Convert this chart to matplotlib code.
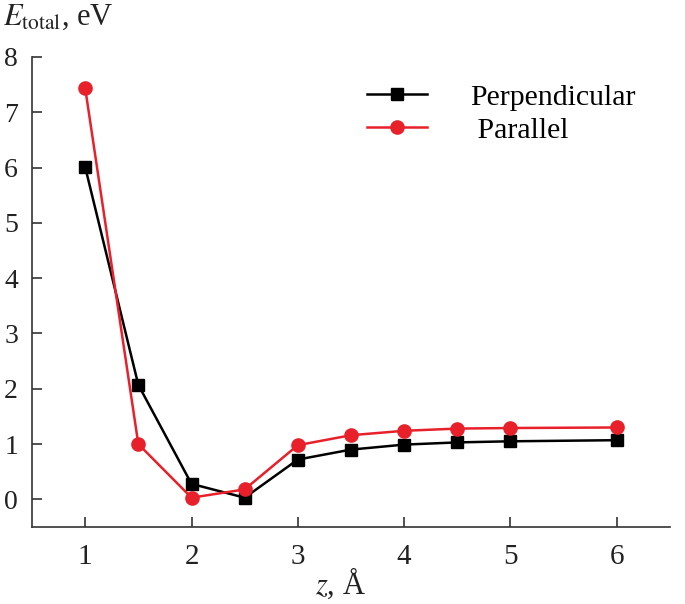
import matplotlib
matplotlib.use('Agg')
import matplotlib.pyplot as plt

plt.rcParams['font.family'] = ['Liberation Serif', 'DejaVu Serif']
plt.rcParams['mathtext.fontset'] = 'stix'

# data
z_perp = [1, 1.5, 2, 2.5, 3, 3.5, 4, 4.5, 5, 6]
e_perp = [6.01, 2.07, 0.28, 0.03, 0.72, 0.90, 0.99, 1.03, 1.05, 1.07]
z_par = [1, 1.5, 2, 2.5, 3, 3.5, 4, 4.5, 5, 6]
e_par = [7.44, 1.00, 0.03, 0.18, 0.98, 1.16, 1.24, 1.28, 1.29, 1.30]

fig = plt.figure(figsize=(6.85, 6.04), dpi=100)
ax = fig.add_axes([32/685, 77/604, 638/685, 470/604])

red = '#e8202a'
ax.plot(z_perp, e_perp, color='black', marker='s', markersize=8, linewidth=1.8,
        label='Perpendicular')
ax.plot(z_par, e_par, color=red, marker='o', markersize=9.5, linewidth=1.8,
        label=' Parallel')

ax.set_xlim(0.5, 6.5)
ax.set_ylim(-0.5, 8)
ax.set_xticks([1, 2, 3, 4, 5, 6])
ax.set_yticks(range(0, 9))
ax.spines['top'].set_visible(False)
ax.spines['right'].set_visible(False)
for s in ['left', 'bottom']:
    ax.spines[s].set_linewidth(1.2)
    ax.spines[s].set_color('#333333')
ax.tick_params(direction='in', length=7, width=1.2, colors='#333333',
               labelcolor='#222222')
ax.tick_params(axis='y', pad=10, labelsize=20)
ax.tick_params(axis='x', pad=12, labelsize=21)

ax.legend(loc='upper left', bbox_to_anchor=(367/685, 1 - 84/604),
          bbox_transform=fig.transFigure, frameon=False, fontsize=21.5,
          handlelength=2.0, handletextpad=1.45, labelspacing=0.2,
          borderpad=0, borderaxespad=0)

fig.text(0.005, 0.995, '$E_{\\mathrm{total}}$, eV', fontsize=22, va='top', ha='left',
         color='#222222')
fig.text(340/685, 0.005, '$z$, Å', fontsize=22, va='bottom', ha='center', color='#222222')

fig.savefig('out.png', dpi=100)
